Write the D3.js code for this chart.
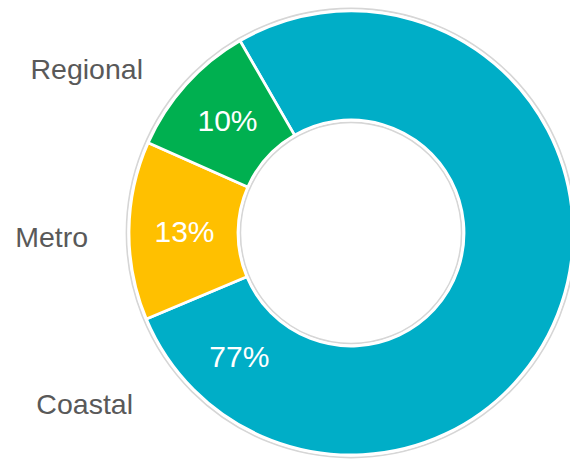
<!DOCTYPE html>
<html>
<head>
<meta charset="utf-8">
<script src="https://cdn.jsdelivr.net/npm/d3@7"></script>
<style>
  html, body { margin: 0; padding: 0; background: #ffffff; }
  svg { display: block; }
</style>
</head>
<body>
<svg id="chart" width="570" height="461"></svg>
<script>
// Share of sites by region
const categories = ["Coastal", "Metro", "Regional"];
const shares = [77, 13, 10];
const shareLabels = ["77%", "13%", "10%"];
const colors = ["#00AEC7", "#FFC000", "#00B050"];

const width = 570, height = 461;
const cx = 351, cy = 233;
const outerR = 222, innerR = 113;
const labelR = (outerR + innerR) / 2;
const startDeg = -30;

const svg = d3.select("#chart");
const g = svg.append("g").attr("transform", `translate(${cx},${cy})`);

const data = categories.map((c, i) => ({ category: c, value: shares[i], label: shareLabels[i], color: colors[i] }));

const pie = d3.pie()
  .sort(null)
  .value(d => d.value)
  .startAngle(startDeg * Math.PI / 180)
  .endAngle(startDeg * Math.PI / 180 + 2 * Math.PI);

const arcs = pie(data);

const arc = d3.arc().innerRadius(innerR).outerRadius(outerR);

// soft grey rims around the ring
g.append("circle").attr("r", outerR + 2.6)
  .attr("fill", "none").attr("stroke", "#d6d6d6").attr("stroke-width", 1.6);
g.append("circle").attr("r", innerR - 2.4)
  .attr("fill", "none").attr("stroke", "#d6d6d6").attr("stroke-width", 1.6);

g.selectAll("path.slice")
  .data(arcs)
  .join("path")
  .attr("class", "slice")
  .attr("d", arc)
  .attr("fill", d => d.data.color)
  .attr("stroke", "#ffffff")
  .attr("stroke-width", 2.8)
  .attr("stroke-linejoin", "round");

// value labels: centred in the slice, the large slice's label sits near its end
const labelArc = d3.arc().innerRadius(labelR).outerRadius(labelR);
function labelPos(d) {
  if (d.data.category === "Coastal") {
    const a = d.endAngle - 0.435;
    return labelArc.centroid({ startAngle: a, endAngle: a });
  }
  return labelArc.centroid(d);
}

g.selectAll("text.value")
  .data(arcs)
  .join("text")
  .attr("class", "value")
  .attr("x", d => labelPos(d)[0] + 1)
  .attr("y", d => labelPos(d)[1])
  .attr("dy", "0.35em")
  .attr("text-anchor", "middle")
  .attr("fill", "#ffffff")
  .attr("font-family", "'Liberation Sans', Arial, sans-serif")
  .attr("font-size", 30)
  .text(d => d.data.label);

// category names to the left of the ring
const namePos = {
  Regional: [143, 79],
  Metro: [88, 247],
  Coastal: [133, 414]
};

svg.selectAll("text.name")
  .data(data)
  .join("text")
  .attr("class", "name")
  .attr("x", d => namePos[d.category][0])
  .attr("y", d => namePos[d.category][1])
  .attr("text-anchor", "end")
  .attr("fill", "#595959")
  .attr("font-family", "'Liberation Sans', Arial, sans-serif")
  .attr("font-size", 28.5)
  .text(d => d.category);
</script>
</body>
</html>
